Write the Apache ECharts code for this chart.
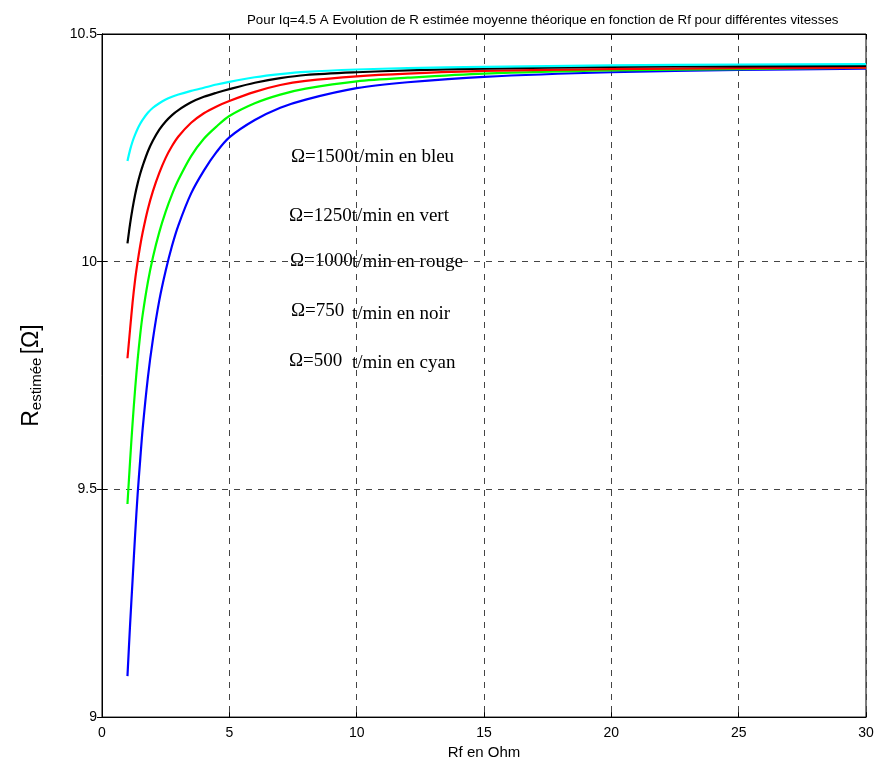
<!DOCTYPE html>
<html>
<head>
<meta charset="utf-8">
<script src="https://cdn.jsdelivr.net/npm/echarts@6/dist/echarts.min.js"></script>
<style>html,body{margin:0;padding:0;background:#fff}#c{width:880px;height:765px}</style>
</head>
<body>
<div id="c"></div>
<script>
// Rf values (Ohm) sampled along the curves
const rf = [1, 1.1, 1.2, 1.3, 1.4, 1.5, 1.6, 1.8, 2, 2.25, 2.5, 2.75, 3, 3.5, 4, 4.5, 5, 6, 7, 8, 10, 12, 15, 20, 25, 30];
// R estimée for each speed
const r1500 = [9.09, 9.20, 9.30, 9.40, 9.49, 9.565, 9.635, 9.745, 9.83, 9.915, 9.98, 10.035, 10.08, 10.15, 10.20, 10.241, 10.273, 10.311, 10.338, 10.356, 10.381, 10.394, 10.406, 10.416, 10.421, 10.424];
const r1250 = [9.468, 9.56, 9.645, 9.72, 9.785, 9.84, 9.885, 9.955, 10.01, 10.065, 10.11, 10.148, 10.18, 10.232, 10.27, 10.297, 10.32, 10.348, 10.367, 10.38, 10.396, 10.404, 10.413, 10.42, 10.423, 10.426];
const r1000 = [9.788, 9.85, 9.91, 9.96, 10.0, 10.035, 10.065, 10.115, 10.155, 10.195, 10.228, 10.254, 10.275, 10.305, 10.326, 10.341, 10.353, 10.373, 10.388, 10.397, 10.407, 10.413, 10.419, 10.423, 10.425, 10.426];
const r750  = [10.04, 10.082, 10.117, 10.147, 10.172, 10.193, 10.211, 10.242, 10.266, 10.29, 10.308, 10.322, 10.333, 10.35, 10.362, 10.371, 10.379, 10.393, 10.403, 10.41, 10.416, 10.42, 10.424, 10.428, 10.429, 10.43];
const r500  = [10.221, 10.245, 10.264, 10.279, 10.292, 10.303, 10.312, 10.327, 10.338, 10.348, 10.356, 10.362, 10.367, 10.375, 10.382, 10.389, 10.395, 10.405, 10.412, 10.417, 10.422, 10.425, 10.428, 10.431, 10.433, 10.434];
const xTicks = [0, 5, 10, 15, 20, 25, 30];
const yTicks = [9, 9.5, 10, 10.5];

const seriesDefs = [
  {name: '1500', data: r1500, color: '#0000ff'},
  {name: '1250', data: r1250, color: '#00ff00'},
  {name: '1000', data: r1000, color: '#ff0000'},
  {name: '750', data: r750, color: '#000000'},
  {name: '500', data: r500, color: '#00ffff'}
];

const chart = echarts.init(document.getElementById('c'), null, {renderer: 'canvas'});
const sans = 'Liberation Sans, Arial, sans-serif';
const serif = 'Liberation Serif, Times New Roman, serif';
const gridLine = {show: true, lineStyle: {color: '#444', type: [6, 6], width: 1}};

const ann = (txt, left, top) => ({type: 'text', left: left, top: top, style: {text: txt, font: '19px ' + serif, fill: '#000'}});

chart.setOption({
  animation: false,
  backgroundColor: '#fff',
  title: {
    text: 'Pour Iq=4.5 A Evolution de R estimée moyenne théorique en fonction de Rf pour différentes vitesses',
    left: 242, top: 9,
    textStyle: {fontFamily: sans, fontSize: 13.3, fontWeight: 'normal', color: '#000'}
  },
  grid: {left: 102, top: 34, width: 764, height: 689, show: true, borderColor: '#000', borderWidth: 1, backgroundColor: '#fff'},
  xAxis: [{
    type: 'value', min: xTicks[0], max: xTicks[xTicks.length - 1], interval: 5,
    name: 'Rf en Ohm', nameLocation: 'middle', nameGap: 18,
    nameTextStyle: {fontFamily: sans, fontSize: 15, color: '#000'},
    axisLine: {show: true, lineStyle: {color: '#000', width: 1}},
    axisTick: {show: true, inside: true, length: 5, lineStyle: {color: '#000'}},
    axisLabel: {fontFamily: sans, fontSize: 14, color: '#000', margin: 9},
    splitLine: gridLine
  }, {
    type: 'value', position: 'top', min: 0, max: 30, interval: 5,
    axisLine: {show: true, lineStyle: {color: '#000'}},
    axisTick: {show: true, inside: true, length: 5, lineStyle: {color: '#000'}},
    axisLabel: {show: false}, splitLine: {show: false}
  }],
  yAxis: [{
    type: 'value', min: yTicks[0], max: yTicks[yTicks.length - 1], interval: 0.5,
    name: '{b|R}{s|estimée} {b|[Ω]}', nameLocation: 'middle', nameGap: 58,
    nameTextStyle: {
      color: '#000',
      rich: {
        b: {fontFamily: sans, fontSize: 23, color: '#000'},
        s: {fontFamily: sans, fontSize: 15, color: '#000', verticalAlign: 'bottom', padding: [9, 0, 0, 0]}
      }
    },
    axisLine: {show: true, lineStyle: {color: '#000', width: 1}},
    axisTick: {show: true, inside: true, length: 5, lineStyle: {color: '#000'}},
    axisLabel: {fontFamily: sans, fontSize: 14, color: '#000', margin: 5, formatter: v => String(v)},
    splitLine: gridLine
  }, {
    type: 'value', position: 'right', min: 9, max: 10.5, interval: 0.5,
    axisLine: {show: true, lineStyle: {color: '#000'}},
    axisTick: {show: true, inside: true, length: 5, lineStyle: {color: '#000'}},
    axisLabel: {show: false}, splitLine: {show: false}
  }],
  series: seriesDefs.map(s => ({
    name: s.name, type: 'line', xAxisIndex: 0, yAxisIndex: 0,
    data: rf.map((x, i) => [x, s.data[i]]),
    showSymbol: false, smooth: 0.3,
    lineStyle: {color: s.color, width: 2.2, join: 'round'},
    itemStyle: {color: s.color}
  })),
  graphic: [
    ann('Ω=1500t/min en bleu', 291, 148),
    ann('Ω=1250t/min en vert', 289, 207),
    ann('Ω=1000', 290, 252),
    ann('t/min en rouge', 352, 253),
    ann('Ω=750', 291, 302),
    ann('t/min en noir', 352, 305),
    ann('Ω=500', 289, 352),
    ann('t/min en cyan', 352, 354)
  ]
});
</script>
</body>
</html>
